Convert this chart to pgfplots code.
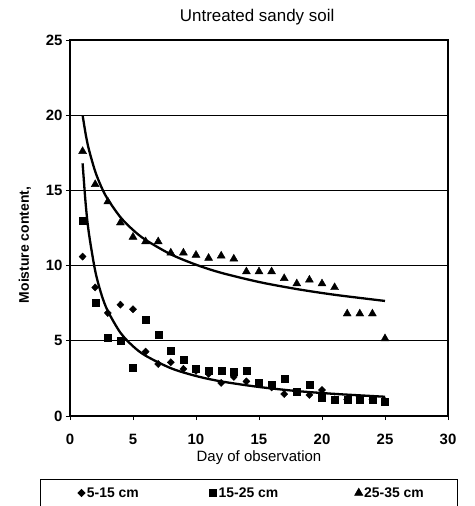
\documentclass[border=0pt]{standalone}
\usepackage{pgfplots}
\pgfplotsset{compat=1.18}
\usepackage{fontspec}
\setmainfont{Liberation Sans}
\pgfplotsset{
  imgA/.style={legend image code/.code={\path (-41bp,0bp) (5bp,0bp); \draw[black, fill=black] plot[mark=diamond*, mark size=3.6bp, mark options={xscale=1.3}] coordinates {(0bp,0bp)};}},
  imgB/.style={legend image code/.code={\path (-74bp,0bp) (5bp,0bp); \draw[black, fill=black] plot[mark=square*, mark size=3.5bp] coordinates {(0bp,0bp)};}},
  imgC/.style={legend image code/.code={\path (-80bp,0bp) (5bp,0bp); \draw[black, fill=black] plot[mark=triangle*, mark size=4.6bp] coordinates {(0bp,0bp)};}},
}
\begin{document}
\begin{tikzpicture}
\useasboundingbox (0,0) rectangle (475bp,506bp);
\begin{axis}[
  at={(70bp,90bp)}, anchor=south west,
  scale only axis, width=378bp, height=376bp,
  xmin=0, xmax=30, ymin=0, ymax=25,
  xtick={0,5,...,30}, ytick={0,5,...,25},
  tick align=outside, xtick pos=bottom, ytick pos=left,
  major tick length=4bp,
  every tick/.style={black, line width=0.8bp},
  ymajorgrids, grid style={black, line width=0.6bp},
  axis line style={line width=1.6bp},
  /pgf/number format/assume math mode=true,
  ticklabel style={font=\fontsize{15}{18}\selectfont\bfseries},
  xticklabel style={yshift=-11bp},
  title={Untreated sandy soil},
  title style={font=\fontsize{17}{20}\selectfont, at={(axis description cs:0.495,1)}, anchor=center, yshift=17bp},
  xlabel={Day of observation},
  xlabel style={font=\fontsize{15}{18}\selectfont, at={(axis description cs:0.5,0)}, anchor=base, yshift=-45bp},
  ylabel={Moisture content,},
  ylabel style={font=\fontsize{14}{17}\selectfont\bfseries, at={(axis description cs:-0.119,0.455)}, anchor=center},
  legend columns=3,
  legend style={at={(axis description cs:0.4735,-0.1676)}, anchor=north,
    draw=black, line width=0.8bp, inner xsep=0pt, inner ysep=8bp,
    nodes={inner sep=0pt},
    font=\fontsize{14}{17}\selectfont\bfseries,
    /tikz/every even column/.append style={column sep=0pt},
    /tikz/every odd column/.append style={column sep=0pt}},
]
\addplot[only marks, mark=diamond*, mark size=3.6bp, mark options={xscale=1.3}, black, imgA] table {
x y
1 10.6
2 8.55
3 6.85
4 7.4
5 7.1
6 4.28
7 3.46
8 3.57
9 3.13
10 3.0
11 2.8
12 2.2
13 2.6
14 2.3
15 2.2
16 1.9
17 1.46
18 1.6
19 1.4
20 1.73
21 1.1
22 1.1
23 1.1
24 1.1
25 1.0
};
\addlegendentry{5-15 cm}
\addplot[only marks, mark=square*, mark size=3.5bp, black, imgB] table {
x y
1 13.0
2 7.55
3 5.2
4 4.98
5 3.24
6 6.43
7 5.39
8 4.32
9 3.72
10 3.13
11 3.02
12 3.02
13 2.95
14 3.0
15 2.21
16 2.06
17 2.5
18 1.6
19 2.06
20 1.22
21 1.06
22 1.06
23 1.06
24 1.06
25 0.95
};
\addlegendentry{15-25 cm}
\addplot[only marks, mark=triangle*, mark size=4.6bp, black, imgC] table {
x y
1 17.6
2 15.4
3 14.25
4 12.85
5 11.9
6 11.6
7 11.6
8 10.85
9 10.85
10 10.7
11 10.5
12 10.65
13 10.45
14 9.6
15 9.6
16 9.6
17 9.15
18 8.8
19 9.05
20 8.8
21 8.55
22 6.8
23 6.8
24 6.8
25 5.15
};
\addlegendentry{25-35 cm\hspace*{34bp}}
\addplot[smooth, black, line width=2.3bp, no marks, forget plot] coordinates {
(1,16.8) (1.25,14.05) (1.5,12.15) (2,9.65) (2.5,8.07) (3,6.98) (4,5.54) (5,4.64) (6,4.01) (8,3.18) (10,2.66) (12,2.30) (15,1.93) (18,1.66) (21,1.47) (25,1.28)
};
\addplot[smooth, black, line width=2.3bp, no marks, forget plot] coordinates {
(1,20) (1.25,18.71) (1.5,17.72) (2,16.26) (2.5,15.21) (3,14.41) (4,13.22) (5,12.37) (6,11.71) (8,10.75) (10,10.06) (12,9.52) (15,8.91) (18,8.44) (21,8.06) (25,7.65)
};
\end{axis}
\end{tikzpicture}
\end{document}
